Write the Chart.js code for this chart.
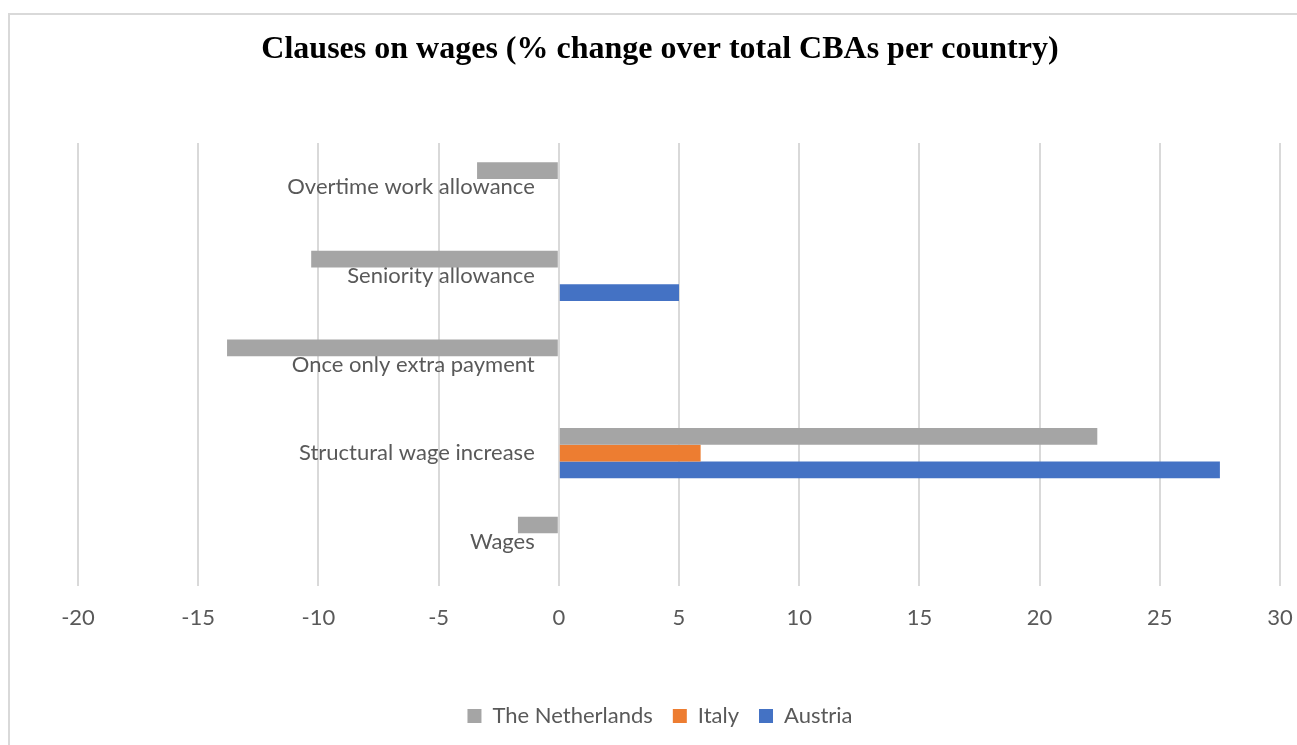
<!DOCTYPE html>
<html>
<head>
<meta charset="utf-8">
<title>Clauses on wages</title>
<script src="https://cdn.jsdelivr.net/npm/chart.js@4.4.1/dist/chart.umd.min.js"></script>
<style>
  html, body { margin: 0; padding: 0; background: #fff; overflow: hidden; }
  #frame {
    position: absolute; left: 8px; top: 13px;
    width: 1400px; height: 800px;
    border: 2px solid #d9d9d9;
  }
  #wages { position: absolute; left: 0; top: 0; }
</style>
</head>
<body>
<div id="frame"></div>
<canvas id="wages" width="1297" height="745"></canvas>
<script>
/* ---------- data ---------- */
const clauses = [
  "Overtime work allowance",
  "Seniority allowance",
  "Once only extra payment",
  "Structural wage increase",
  "Wages"
];
const netherlands = [-3.4, -10.3, -13.8, 22.4, -1.7];
const italy       = [null, null, null, 5.9, null];
const austria     = [null, 5.0, null, 27.5, null];

const xMin = -20;
const xMax = 30;
const xStep = 5;

/* ---------- style ---------- */
const textGrey = "#595959";
const gridGrey = "#d9d9d9";
const labelFont = { family: "Lato", size: 22 };

const series = [
  { label: "The Netherlands", data: netherlands, color: "#a5a5a5" },
  { label: "Italy",           data: italy,       color: "#ed7d31" },
  { label: "Austria",         data: austria,     color: "#4472c4" }
];

new Chart(document.getElementById("wages"), {
  type: "bar",
  data: {
    labels: clauses,
    datasets: series.map(s => ({
      label: s.label,
      data: s.data,
      backgroundColor: s.color,
      borderWidth: 0,
      barPercentage: 1,
      categoryPercentage: 0.565
    }))
  },
  options: {
    indexAxis: "y",
    responsive: false,
    animation: false,
    layout: { padding: { left: 40, right: 17, top: 0, bottom: 8 } },
    scales: {
      x: {
        min: xMin,
        max: xMax,
        ticks: { stepSize: xStep, color: textGrey, font: labelFont, padding: 19 },
        grid: { color: gridGrey, lineWidth: 2, drawTicks: false },
        border: { display: false },
        // leave room between the value labels and the legend,
        // and let the plot run right up to the layout padding
        afterFit: s => {
          s.height = 99;
          s.paddingRight = 0;
        }
      },
      y: {
        // category names hang just left of the zero line
        position: { x: -1 },
        grid: { display: false, drawTicks: false },
        border: { display: false },
        ticks: { color: textGrey, font: labelFont, padding: 0 }
      },
      // empty left gutter so the title and legend centre like the original sheet
      gutter: {
        type: "category",
        axis: "y",
        position: "left",
        grid: { display: false, drawTicks: false },
        border: { display: false },
        ticks: { display: false },
        afterFit: s => { s.width = 38; }
      }
    },
    plugins: {
      title: {
        display: true,
        text: "Clauses on wages (% change over total CBAs per country)",
        color: "#000",
        font: { family: "Liberation Serif", size: 32, weight: "bold", lineHeight: 1.2 },
        padding: { top: 31, bottom: 73.6 }
      },
      legend: {
        position: "bottom",
        labels: {
          color: textGrey,
          font: labelFont,
          boxWidth: 14,
          boxHeight: 14,
          padding: 20
        }
      },
      tooltip: { enabled: false }
    }
  }
});
</script>
</body>
</html>
